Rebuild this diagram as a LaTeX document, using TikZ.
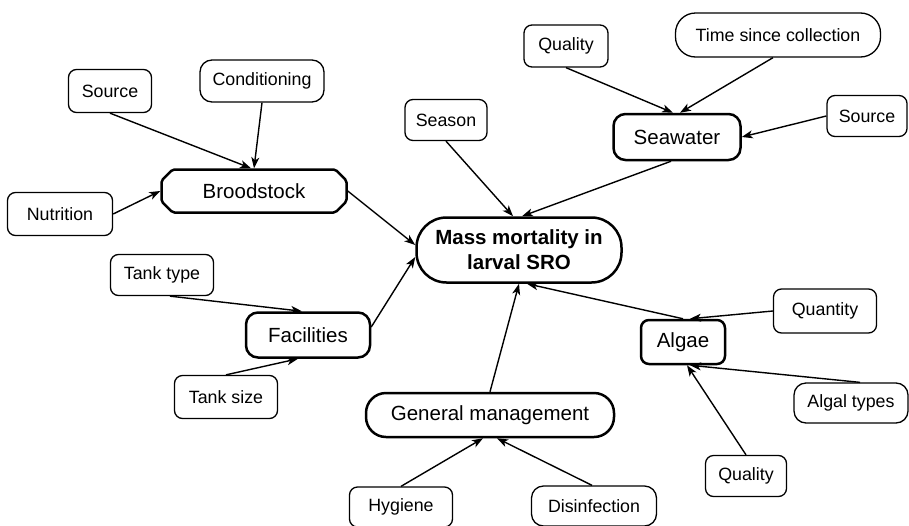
\documentclass[tikz,border=0pt]{standalone}
\usepackage{fontspec}
\setmainfont{Liberation Sans}
\usetikzlibrary{arrows.meta,shapes.misc}
\begin{document}
\begin{tikzpicture}[x=1pt,y=-1pt,
  small/.style={draw, line width=1.3pt, rounded corners=8pt, inner sep=0pt, font=\fontsize{17.8}{20}\selectfont},
  big/.style={draw, line width=2.5pt, inner sep=0pt, font=\fontsize{20.5}{24}\selectfont},
  arr/.style={line width=1.4pt, -{Stealth[length=11pt,width=8pt,inset=3pt]}}]
\useasboundingbox (0,0) rectangle (909,525);
% leaf nodes
\node[small, minimum width=83pt, minimum height=43pt] (srcL) at (110,91) {Source};
\node[small, minimum width=124pt, minimum height=42pt, rounded corners=12pt] (cond) at (262,81) {Conditioning};
\node[small, minimum width=105pt, minimum height=43pt] (nutr) at (60,214) {Nutrition};
\node[small, minimum width=82pt, minimum height=41pt] (season) at (446,120) {Season};
\node[small, minimum width=84pt, minimum height=42pt] (qualT) at (566,46) {Quality};
\node[small, minimum width=205pt, minimum height=44pt, rounded corners=20pt] (time) at (778,35) {Time since collection};
\node[small, minimum width=80pt, minimum height=41pt] (srcR) at (867,116) {Source};
\node[small, minimum width=103pt, minimum height=44pt] (quant) at (825,311) {Quantity};
\node[small, minimum width=114pt, minimum height=40pt, rounded corners=12pt] (algal) at (851,403) {Algal types};
\node[small, minimum width=81pt, minimum height=41pt] (qualB) at (746,476) {Quality};
\node[small, minimum width=125pt, minimum height=40pt, rounded corners=12pt] (disinf) at (594,506) {Disinfection};
\node[small, minimum width=103pt, minimum height=40pt] (hyg) at (401,507) {Hygiene};
\node[small, minimum width=103pt, minimum height=41pt] (tanktype) at (162,275) {Tank type};
\node[small, minimum width=103pt, minimum height=43pt] (tanksize) at (226,397) {Tank size};
% main nodes
\node[big, chamfered rectangle, chamfered rectangle xsep=10pt, minimum width=185pt, minimum height=43pt, rounded corners=2pt] (brood) at (254,191) {Broodstock};
\node[big, rounded corners=12pt, minimum width=127pt, minimum height=46pt] (sea) at (677,137) {Seawater};
\node[big, rounded corners=30pt, minimum width=205pt, minimum height=65pt, align=center, font=\fontsize{20.5}{25}\selectfont\bfseries] (mass) at (519,250) {Mass mortality in\\larval SRO};
\node[big, rounded corners=8pt, minimum width=84pt, minimum height=44pt] (algae) at (683,342) {Algae};
\node[big, rounded corners=20pt, minimum width=248pt, minimum height=44pt] (gm) at (490,415) {General management};
\node[big, rounded corners=12pt, minimum width=124pt, minimum height=45pt] (fac) at (308,335) {Facilities};
% connectors
\draw[arr] (srcL.south) -- ([xshift=-3pt]brood.north);
\draw[arr] (cond.south) -- (brood.north);
\draw[arr] (nutr.east) -- (brood.west);
\draw[arr] (brood.east) -- ([yshift=5pt]mass.west);
\draw[arr] ([xshift=8pt]tanktype.south) -- ([xshift=-6pt]fac.north);
\draw[arr] (tanksize.north) -- ([xshift=-10pt]fac.south);
\draw[arr] ([yshift=8pt]fac.east) -- ([yshift=-7pt]mass.west);
\draw[arr] (season.south) -- ([xshift=-6pt]mass.north);
\draw[arr] ([xshift=-6pt]sea.south) -- ([xshift=3pt]mass.north);
\draw[arr] (qualT.south) -- ([xshift=-4pt]sea.north);
\draw[arr] ([xshift=-5pt]time.south) -- ([xshift=3pt]sea.north);
\draw[arr] (srcR.west) -- (sea.east);
\draw[arr] (algae.north) -- ([xshift=8pt]mass.south);
\draw[arr] (quant.west) -- ([xshift=7pt]algae.north);
\draw[arr] ([xshift=9pt]algal.north) -- ([xshift=7pt]algae.south);
\draw[arr] (qualB.north) -- ([xshift=4pt]algae.south);
\draw[arr] (gm.north) -- (mass.south);
\draw[arr] (hyg.north) -- ([xshift=-7pt]gm.south);
\draw[arr] ([xshift=-2pt]disinf.north) -- ([xshift=7pt]gm.south);
\end{tikzpicture}
\end{document}
